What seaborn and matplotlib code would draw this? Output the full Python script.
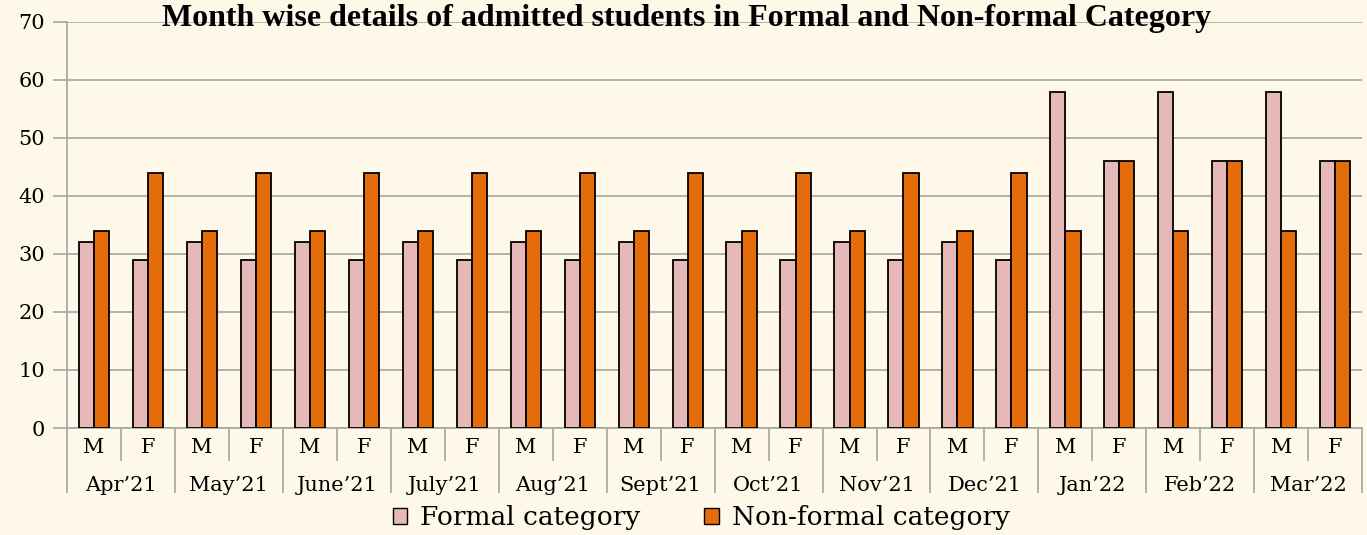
'''
Month wise admitted students, formal vs non-formal, split by M and F.
'''
import pandas as pd
import seaborn as sns
import matplotlib.pyplot as plt

MONTHS = ["Apr’21", "May’21", "June’21", "July’21", "Aug’21", "Sept’21",
          "Oct’21", "Nov’21", "Dec’21", "Jan’22", "Feb’22", "Mar’22"]
GENDERS = ['M', 'F']
# one value per (month, gender), in order M, F, M, F ...
FORMAL = [32, 29, 32, 29, 32, 29, 32, 29, 32, 29, 32, 29,
          32, 29, 32, 29, 32, 29, 58, 46, 58, 46, 58, 46]
NON_FORMAL = [34, 44, 34, 44, 34, 44, 34, 44, 34, 44, 34, 44,
              34, 44, 34, 44, 34, 44, 34, 46, 34, 46, 34, 46]
SERIES = ['Formal category', 'Non-formal category']
COLORS = ['#E6B9B8', '#E46C0A']
BG = '#FEF8E9'
GRID = '#A6A6A6'


def build_frame() -> pd.DataFrame:
    '''
    Long table with one row per bar
    '''
    rows = []
    slots = [m + ' ' + g for m in MONTHS for g in GENDERS]
    for name, values in zip(SERIES, [FORMAL, NON_FORMAL]):
        for slot, v in zip(slots, values):
            rows.append({'slot': slot, 'category': name, 'value': v})
    return pd.DataFrame(rows)


def main():
    df = build_frame()
    sns.set_style('white')
    plt.rcParams['font.family'] = ['DejaVu Serif']
    plt.rcParams['text.color'] = 'black'
    plt.rcParams['xtick.color'] = 'black'
    plt.rcParams['ytick.color'] = 'black'

    fig = plt.figure(figsize=(13.67, 5.35), dpi=100, facecolor=BG)
    ax = fig.add_axes([0.049, 0.2, 0.9475, 0.7589])
    ax.set_facecolor(BG)

    sns.barplot(data=df, x='slot', y='value', hue='category',
                palette=COLORS, saturation=1, width=0.56,
                edgecolor='black', linewidth=1.3, ax=ax, zorder=3)

    ax.set_ylim(0, 70)
    ax.set_xlim(-0.5, len(FORMAL) - 0.5)
    ax.set_yticks(range(0, 71, 10))
    ax.yaxis.grid(True, color=GRID, linewidth=1.2, zorder=0)
    ax.set_xlabel('')
    ax.set_ylabel('')
    for side in ['top', 'right']:
        ax.spines[side].set_visible(False)
    for side in ['left', 'bottom']:
        ax.spines[side].set_color(GRID)
        ax.spines[side].set_linewidth(1.2)
    ax.tick_params(axis='y', length=10, color=GRID, width=1.2,
                   labelsize=15, labelcolor='black', pad=6, left=True)
    ax.tick_params(axis='x', length=0, labelsize=15, labelcolor='black',
                   pad=7)
    ax.set_xticks(range(len(FORMAL)))
    ax.set_xticklabels(GENDERS * len(MONTHS))

    # multi level category axis
    trans = ax.get_xaxis_transform()
    n = len(FORMAL)
    short = [i + 0.5 for i in range(0, n - 1, 2)]
    long = [i - 0.5 for i in range(0, n + 1, 2)]
    ax.vlines(short, -0.081, 0, transform=trans, color=GRID,
              linewidth=1.2, clip_on=False)
    ax.vlines(long, -0.16, 0, transform=trans, color=GRID,
              linewidth=1.2, clip_on=False)
    for i, month in enumerate(MONTHS):
        ax.text(2 * i + 0.5, -0.142, month, transform=trans, ha='center',
                va='center', fontsize=15, color='black')

    leg = ax.get_legend()
    handles = leg.legend_handles
    labels = [t.get_text() for t in leg.texts]
    leg.remove()
    for h in handles:
        h.set_edgecolor('black')
        h.set_linewidth(1.0)
    fig.legend(handles, labels, loc='center', bbox_to_anchor=(0.513, 0.032),
               ncol=2, frameon=False, fontsize=19, handlelength=0.55,
               handleheight=0.55, handletextpad=0.5, columnspacing=2.4,
               borderpad=0.1)

    fig.text(0.502, 0.966, 'Month wise details of admitted students in '
             'Formal and Non-formal Category', ha='center', va='center',
             fontsize=23, fontweight='bold', family='Liberation Serif',
             color='black')

    fig.savefig('out.png', dpi=100, facecolor=BG)


if __name__ == '__main__':
    main()
